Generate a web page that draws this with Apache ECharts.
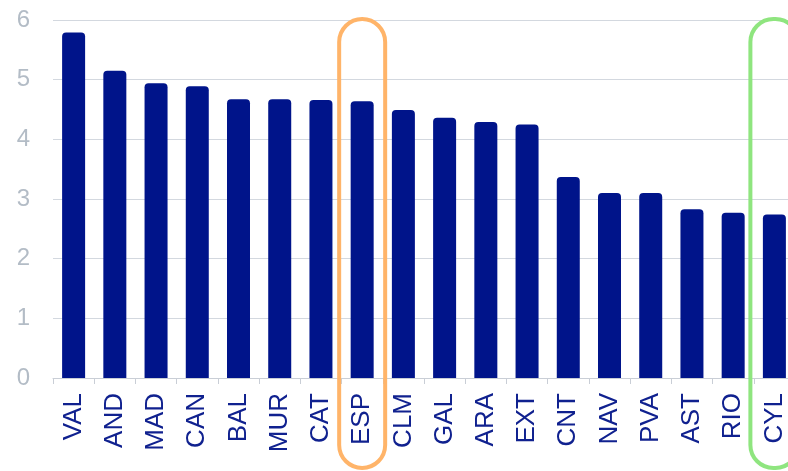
<!DOCTYPE html>
<html>
<head>
<meta charset="utf-8">
<style>
  html, body { margin: 0; padding: 0; background: #ffffff; overflow: hidden; }
  /* the plot area runs slightly past the right edge of the visible page */
  #chart { width: 795px; height: 471px; }
</style>
<script src="https://cdn.jsdelivr.net/npm/echarts@6/dist/echarts.min.js"></script>
</head>
<body>
<div id="chart"></div>
<script>
// Regions, ordered from highest to lowest value
const regions = ['VAL', 'AND', 'MAD', 'CAN', 'BAL', 'MUR', 'CAT', 'ESP', 'CLM', 'GAL',
                 'ARA', 'EXT', 'CNT', 'NAV', 'PVA', 'AST', 'RIO', 'CYL'];
const values = [5.79, 5.15, 4.94, 4.89, 4.67, 4.67, 4.66, 4.64, 4.49, 4.36,
                4.29, 4.25, 3.37, 3.10, 3.10, 2.83, 2.77, 2.74];
const yTicks = [0, 1, 2, 3, 4, 5, 6];

// Categories outlined with a rounded frame, and the frame colour
const highlights = [
  { name: 'ESP', color: '#FFB469', width: 46 },
  { name: 'CYL', color: '#8FE57F', width: 48 }
];

const chart = echarts.init(document.getElementById('chart'), null, { renderer: 'canvas' });

chart.setOption({
  animation: false,
  grid: { left: 53, right: 0, top: 20, bottom: 93, containLabel: false },
  xAxis: {
    type: 'category',
    data: regions,
    axisLine: { lineStyle: { color: '#c9ced6', width: 1 } },
    axisTick: { show: true, length: 6, lineStyle: { color: '#c9ced6' } },
    axisLabel: {
      rotate: 90,
      margin: 15,
      color: '#10218f',
      fontSize: 26,
      fontFamily: 'Liberation Sans, Arial, sans-serif'
    }
  },
  yAxis: {
    type: 'value',
    min: yTicks[0],
    max: yTicks[yTicks.length - 1],
    interval: 1,
    axisLine: { show: false },
    axisTick: { show: false },
    splitLine: { lineStyle: { color: '#d3d8df', width: 1 } },
    axisLabel: {
      margin: 23,
      color: '#b3bcc6',
      fontSize: 24,
      fontFamily: 'Liberation Sans, Arial, sans-serif'
    }
  },
  series: [{
    type: 'bar',
    data: values,
    barWidth: 23,
    itemStyle: { color: '#00148a', borderRadius: [4, 4, 0, 0] }
  }]
});

// Rounded frames around the highlighted categories, placed via the axis scales
function drawFrames() {
  const top = chart.convertToPixel({ yAxisIndex: 0 }, yTicks[yTicks.length - 1]) - 1;
  const bottom = chart.getHeight() - 3;
  const elements = highlights.map(function (h) {
    const cx = chart.convertToPixel({ xAxisIndex: 0 }, h.name);
    return {
      type: 'rect',
      shape: { x: cx - h.width / 2, y: top, width: h.width, height: bottom - top, r: 23 },
      style: { fill: 'none', stroke: h.color, lineWidth: 4 },
      z: 10
    };
  });
  chart.setOption({ graphic: { elements: elements } });
}
drawFrames();
</script>
</body>
</html>
